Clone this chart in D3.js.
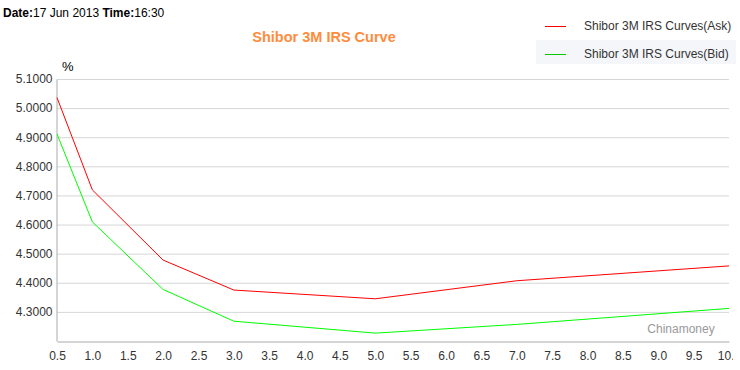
<!DOCTYPE html>
<html><head><meta charset="utf-8">
<script src="https://cdn.jsdelivr.net/npm/d3@7"></script>
<style>body{margin:0;background:#fff;font-family:"Liberation Sans",Arial,sans-serif;}</style>
</head><body><svg id="c" width="740" height="370"></svg>
<script>
const tenors = [0.5, 1.0, 2.0, 3.0, 5.0, 7.0, 10.0];
const askValues = [5.036, 4.719, 4.478, 4.375, 4.345, 4.407, 4.458];
const bidValues = [4.911, 4.609, 4.377, 4.268, 4.227, 4.257, 4.312];
const xTicks = [0.5,1.0,1.5,2.0,2.5,3.0,3.5,4.0,4.5,5.0,5.5,6.0,6.5,7.0,7.5,8.0,8.5,9.0,9.5,10.0];
const yTicks = [4.3,4.4,4.5,4.6,4.7,4.8,4.9,5.0,5.1];
const seriesNames = ["Shibor 3M IRS Curves(Ask)", "Shibor 3M IRS Curves(Bid)"];

const svg = d3.select("#c");
const x = d3.scaleLinear().domain([0.5,10]).range([57,729]);
const y = d3.scaleLinear().domain([4.2,5.1]).range([341,79]);

svg.append("defs").append("clipPath").attr("id","xclip")
  .append("rect").attr("x",0).attr("y",0).attr("width",733).attr("height",370);

// gridlines
svg.append("g").selectAll("line").data(yTicks).join("line")
  .attr("x1",57).attr("x2",729).attr("y1",d=>y(d)+0.5).attr("y2",d=>y(d)+0.5)
  .attr("stroke","#d6d6d6").attr("stroke-width",1);

// axes
const xa = svg.append("g").attr("clip-path","url(#xclip)").append("g").attr("transform","translate(0,341.5)")
  .call(d3.axisBottom(x).tickValues(xTicks).tickFormat(d3.format(".1f")).tickSize(0).tickPadding(10));
xa.select(".domain").attr("stroke","#aaa");
xa.selectAll("text").attr("font-size",12).attr("fill","#333").attr("font-family","Liberation Sans, Arial");
const ya = svg.append("g").attr("transform","translate(56.5,0)")
  .call(d3.axisLeft(y).tickValues(yTicks).tickFormat(d3.format(".4f")).tickSize(0).tickPadding(4));
ya.select(".domain").attr("stroke","#aaa");
ya.selectAll("text").attr("font-size",12).attr("fill","#333").attr("font-family","Liberation Sans, Arial");

// lines
const line = d3.line().x((d,i)=>x(tenors[i])).y(d=>y(d));
svg.append("path").datum(bidValues).attr("d",line).attr("fill","none").attr("stroke","#00ff00").attr("stroke-width",1);
svg.append("path").datum(askValues).attr("d",line).attr("fill","none").attr("stroke","#ff0000").attr("stroke-width",1);

// texts
const t = svg.append("text").attr("x",3).attr("y",17).attr("font-size",12).attr("fill","#000");
t.append("tspan").attr("font-weight","bold").text("Date:");
t.append("tspan").text("17 Jun 2013 ");
t.append("tspan").attr("font-weight","bold").text("Time:");
t.append("tspan").text("16:30");

svg.append("text").attr("x",324).attr("y",42).attr("text-anchor","middle")
  .attr("font-size",14.5).attr("font-weight","bold").attr("fill","#ff8c3c").text("Shibor 3M IRS Curve");
svg.append("text").attr("x",62).attr("y",71).attr("font-size",13).attr("fill","#000").text("%");
svg.append("text").attr("x",681).attr("y",333).attr("font-size",12).attr("fill","#999").attr("text-anchor","middle").text("Chinamoney");

// legend
svg.append("rect").attr("x",536).attr("y",40).attr("width",200).attr("height",24).attr("fill","#f4f6fa");
const colors = ["#ff0000","#00cc00"];
seriesNames.forEach((n,i)=>{
  const yy = 26 + i*28;
  svg.append("line").attr("x1",545).attr("x2",566).attr("y1",yy+0.5).attr("y2",yy+0.5).attr("stroke",colors[i]).attr("stroke-width",1);
  svg.append("text").attr("x",584).attr("y",yy+4).attr("font-size",12).attr("fill","#333").text(n);
});
</script></body></html>
